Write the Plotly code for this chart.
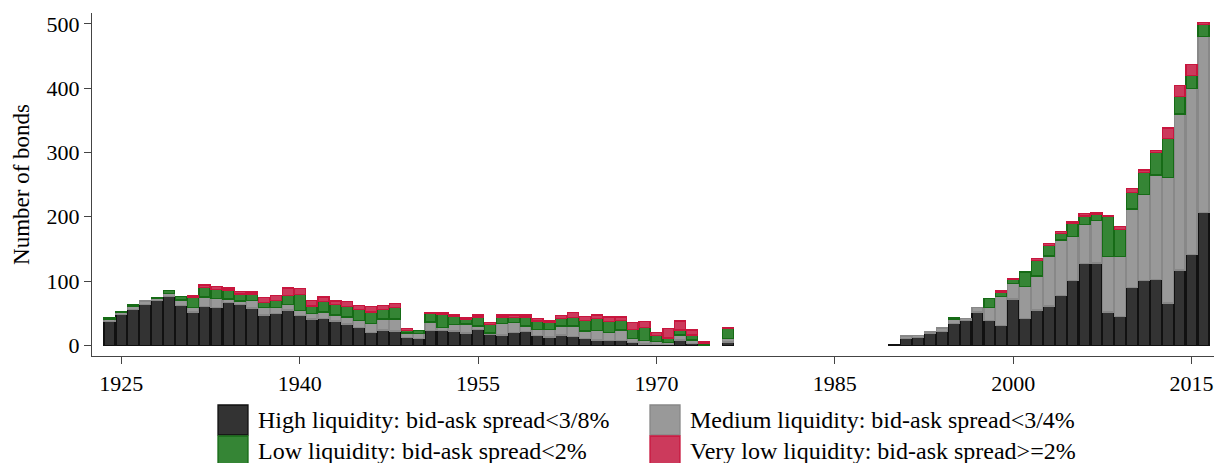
import plotly.graph_objects as go

# ---- data ----
years = list(range(1924, 1975)) + [1976] + list(range(1990, 2017))

high = [37, 48, 56, 63, 70, 76, 62, 52, 60, 59, 67, 64, 58, 47, 49, 55, 46, 41, 42, 38,
        33, 28, 20, 24, 22, 12, 10, 23, 23, 22, 19, 25, 17, 16, 20, 21, 15, 13, 16, 14,
        11, 8, 7, 7, 4, 2, 1.5, 1.5, 8, 3, 0.5,
        5,
        1.5, 11, 12, 19, 21, 34, 39, 52, 39, 31, 72, 42, 55, 61, 78, 101, 127, 128, 52, 45,
        90, 101, 102, 66, 117, 141, 207]

medium = [3, 3, 5, 6, 3, 5, 8.5, 7, 15, 14, 5, 5, 12, 11.5, 10, 9, 8, 8, 10, 9,
          11, 11, 14, 17, 19, 7, 8, 13, 5, 10, 14, 5, 2, 18, 15, 9, 10, 12, 14, 16,
          11, 15, 13, 17, 7, 5, 4, 3, 8, 5, 0,
          6,
          0, 3.5, 3, 2, 6, 7, 3, 7, 20, 45, 24, 50, 53, 78, 86, 68, 61, 66, 86, 93,
          122, 134, 163, 195, 243, 259, 274]

low = [2.5, 2, 3, 0, 1.5, 4, 5.5, 16, 15, 14, 14, 11, 10, 8, 11, 13.5, 25, 12, 16, 17,
       16, 17, 18, 15, 18, 4, 5, 14, 20, 13.5, 8, 14, 13, 10, 8, 14, 13, 11, 12, 13,
       17, 19, 17, 15, 14, 21, 9.5, 7, 8, 8, 2.5,
       15,
       0, 0, 0, 0, 0, 2, 0, 0, 14, 7, 6, 22, 24, 16, 10, 20, 13, 9, 62, 42,
       26, 34, 35, 61, 27, 20, 18]

very_low = [0, 0, 0, 0, 0, 0, 0, 1.5, 4, 5, 3, 4, 3, 8, 8, 11.5, 9, 9, 7, 5,
            8, 6, 8, 6, 6, 3, 0, 1.5, 2, 2.5, 2.5, 3, 3, 3, 4, 3, 4, 3, 4, 8,
            6, 5, 7, 5, 10, 9, 5, 15, 14, 8, 2,
            1.5,
            0, 0, 0, 0, 0, 0, 0, 0, 0, 1.5, 1.5, 0, 3, 3, 3, 3, 4, 3, 2, 5,
            6, 4, 3, 16, 17, 17, 3]

series_names = ["High liquidity: bid-ask spread<3/8%",
                "Medium liquidity: bid-ask spread<3/4%",
                "Low liquidity: bid-ask spread<2%",
                "Very low liquidity: bid-ask spread>=2%"]

x_ticks = [1925, 1940, 1955, 1970, 1985, 2000, 2015]
y_ticks = [0, 100, 200, 300, 400, 500]

# ---- styling ----
FONT = "Liberation Serif, Times New Roman, serif"
fills = ["#333333", "#999999", "#358535", "#cc3a5c"]
edges = ["#111111", "#888888", "#166b16", "#c8163e"]

OFF = 8  # default page body margin
W, H = 1222 - OFF, 463 - OFF
# plot area in screen pixels: x 92..1216, y 13..356
L, R, T, B = 92 - OFF, 1222 - 1216, 13 - OFF, 463 - 356

fig = go.Figure()
for vals, name, fc, ec in zip([high, medium, low, very_low], series_names, fills, edges):
    fig.add_trace(go.Bar(
        x=years, y=[v if v else None for v in vals], name=name,
        marker=dict(color=fc, line=dict(color=ec, width=1.3)),
        width=0.92, showlegend=False,
    ))

fig.update_layout(
    width=W, height=H,
    margin=dict(l=L, r=R, t=T, b=B),
    barmode="stack",
    plot_bgcolor="white", paper_bgcolor="white",
    font=dict(family=FONT, size=22, color="black"),
)
fig.update_xaxes(
    range=[1922.53, 2017.06], tickvals=x_ticks, ticks="outside", ticklen=7,
    tickcolor="#444", showline=True, linecolor="#444", linewidth=1.3,
    showgrid=False, zeroline=False, tickfont=dict(family=FONT, size=22),
)
fig.update_yaxes(
    range=[-16.7, 517.1], tickvals=y_ticks, ticks="outside", ticklen=7,
    tickcolor="#444", showline=True, linecolor="#444", linewidth=1.3,
    showgrid=False, zeroline=False, tickfont=dict(family=FONT, size=22),
    title=dict(text="Number of bonds", font=dict(family=FONT, size=23), standoff=10),
)

# ---- manual legend (large square keys as in the reference) ----
pw, ph = W - L - R, H - T - B
def px(x):  # screen x -> paper
    return (x - OFF - L) / pw
def py(y):  # screen y -> paper
    return (H - B - (y - OFF)) / ph

cols = [218, 650]
rows = [(405, 435), (436, 466)]
order = [(0, 0, 0), (1, 0, 1), (2, 1, 0), (3, 1, 1)]  # series, row, col
for s, r, c in order:
    x0 = cols[c]
    y0, y1 = rows[r]
    fig.add_shape(type="rect", xref="paper", yref="paper",
                  x0=px(x0), x1=px(x0 + 30), y0=py(y1), y1=py(y0),
                  fillcolor=fills[s], line=dict(color=edges[s], width=1.3))
    fig.add_annotation(xref="paper", yref="paper", x=px(x0 + 38), y=py((y0 + y1) / 2),
                       text=series_names[s], showarrow=False, xanchor="left",
                       yanchor="middle", font=dict(family=FONT, size=24, color="black"))

fig.write_html("out.html")
